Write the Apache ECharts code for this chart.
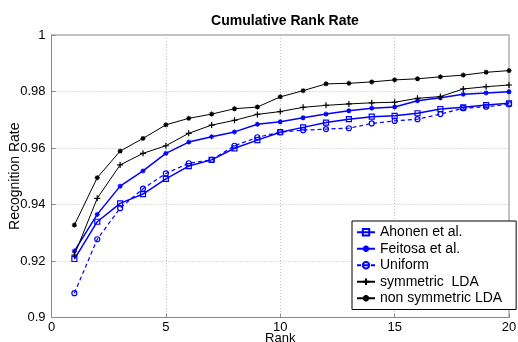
<!DOCTYPE html>
<html>
<head>
<meta charset="utf-8">
<script src="https://cdn.jsdelivr.net/npm/echarts@6/dist/echarts.min.js"></script>
<style>html,body{margin:0;padding:0;background:#fff;}#c{width:518px;height:342px;}</style>
</head>
<body>
<div id="c"></div>
<script>
const ranks = [1,2,3,4,5,6,7,8,9,10,11,12,13,14,15,16,17,18,19,20];
const ahonen = [0.9207,0.9339,0.9404,0.9437,0.9491,0.9536,0.9558,0.9599,0.9628,0.9656,0.9673,0.9690,0.9702,0.9711,0.9714,0.9723,0.9738,0.9744,0.9752,0.9758];
const feitosa = [0.9235,0.9365,0.9465,0.9519,0.9581,0.9621,0.9640,0.9657,0.9684,0.9693,0.9707,0.9720,0.9732,0.9741,0.9745,0.9767,0.9778,0.9790,0.9795,0.9799];
const uniform = [0.9086,0.9277,0.9387,0.9456,0.9510,0.9546,0.9558,0.9608,0.9638,0.9656,0.9663,0.9667,0.9670,0.9687,0.9696,0.9702,0.9720,0.9741,0.9746,0.9755];
const symLDA = [0.9221,0.9422,0.9540,0.9581,0.9608,0.9652,0.9681,0.9698,0.9719,0.9729,0.9744,0.9751,0.9756,0.9760,0.9762,0.9776,0.9782,0.9809,0.9817,0.9823];
const nonSymLDA = [0.9327,0.9495,0.9589,0.9634,0.9682,0.9705,0.9720,0.9739,0.9745,0.9781,0.9803,0.9827,0.9829,0.9834,0.9841,0.9845,0.9852,0.9858,0.9868,0.9874];
const seriesNames = ['Ahonen et al.','Feitosa et al.','Uniform','symmetric  LDA','non symmetric LDA'];

const PLUS = 'path://M0,5L10,5M5,0L5,10';
const STAR = 'path://M0,5L10,5M5,0L5,10M1.5,1.5L8.5,8.5M1.5,8.5L8.5,1.5';
const pair = arr => ranks.map((r,i)=>[r,arr[i]]);
const FONT = 'Liberation Sans';

function mk(name, arr, color, symbol, size, lw, dashed){
  return {
    name, type:'line', data: pair(arr), symbol, symbolSize:size,
    showSymbol:true, animation:false, color,
    lineStyle:{color, width:lw, type: dashed?[4,3]:'solid'},
    itemStyle:{color:'rgba(255,255,255,0)', borderColor:color, borderWidth:1.2},
    emphasis:{disabled:true}
  };
}

const chart = echarts.init(document.getElementById('c'), null, {renderer:'canvas'});
chart.setOption({
  backgroundColor:'#fff',
  animation:false,
  title:{text:'Cumulative Rank Rate', left:280, textAlign:'center', top:9,
    textStyle:{fontFamily:FONT, fontSize:14, fontWeight:'bold', color:'#000'}},
  grid:{left:51.5, right:9, top:35, bottom:24.5, containLabel:false, outerBoundsMode:'none',
    show:true, borderColor:'#888', borderWidth:1, backgroundColor:'transparent'},
  legend:{
    orient:'vertical', left:352, top:221, data:seriesNames,
    backgroundColor:'#fff', borderColor:'#000', borderWidth:1, borderRadius:0,
    padding:[4,14,4,4], itemGap:2, itemWidth:18, itemHeight:8,
    textStyle:{fontFamily:FONT, fontSize:14, color:'#000', lineHeight:14.5}
  },
  xAxis:{type:'value', min:0, max:20, interval:5,
    name:'Rank', nameLocation:'middle', nameGap:14, nameMoveOverlap:false,
    nameTextStyle:{fontFamily:FONT, fontSize:13, color:'#000'},
    axisLine:{lineStyle:{color:'#888'}},
    axisTick:{inside:true, length:4, lineStyle:{color:'#888'}},
    axisLabel:{fontFamily:FONT, fontSize:13, color:'#000', margin:3},
    splitLine:{show:true, lineStyle:{color:'#c0c0c0', type:[1,2]}}
  },
  yAxis:{type:'value', min:0.9, max:1, interval:0.02,
    name:'Recognition Rate', nameLocation:'middle', nameGap:29, nameMoveOverlap:false,
    nameTextStyle:{fontFamily:FONT, fontSize:14, color:'#000'},
    axisLine:{show:true, lineStyle:{color:'#888'}},
    axisTick:{show:true, inside:true, length:4, lineStyle:{color:'#888'}},
    axisLabel:{fontFamily:FONT, fontSize:13, color:'#000', margin:6},
    splitLine:{show:true, lineStyle:{color:'#c0c0c0', type:[1,2]}}
  },
  series:[
    mk(seriesNames[0], ahonen, '#0000ff', 'rect', 5, 1.5, false),
    mk(seriesNames[1], feitosa, '#0000ff', STAR, 5, 1.5, false),
    mk(seriesNames[2], uniform, '#0000ff', 'circle', 5, 1.2, true),
    mk(seriesNames[3], symLDA, '#000000', PLUS, 6, 1, false),
    mk(seriesNames[4], nonSymLDA, '#000000', STAR, 5, 1, false)
  ]
});
</script>
</body>
</html>
